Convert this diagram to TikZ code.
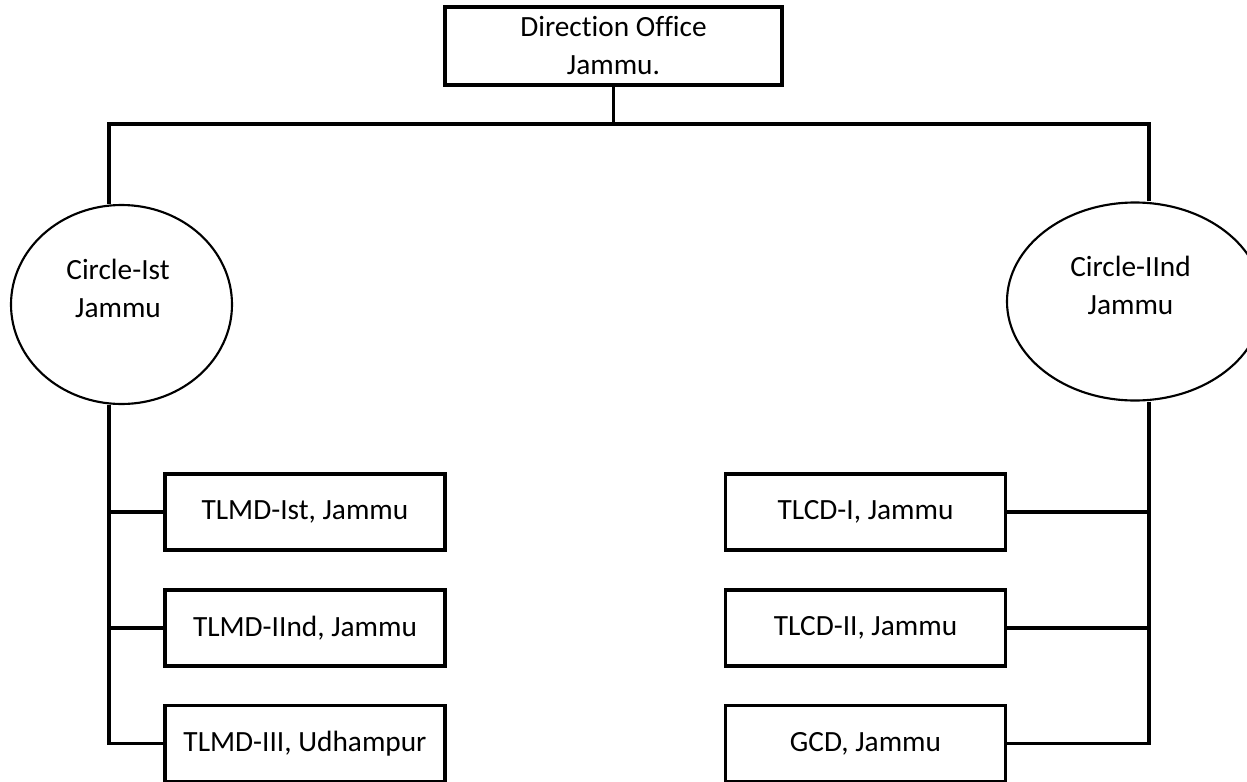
\documentclass[tikz,border=0pt]{standalone}
\usepackage{fontspec}
\setmainfont{Carlito}[Ligatures=CommonOff]
\usetikzlibrary{shapes.geometric}
\begin{document}
\begin{tikzpicture}[x=0.75pt,y=-0.75pt,
  txt/.style={font=\fontsize{22}{28.5}\selectfont},
  topbox/.style={draw, rectangle, line width=2.4pt, minimum width=252.75pt,
    minimum height=58.5pt, inner sep=0pt, align=center, txt},
  unit/.style={draw, rectangle, line width=2.4pt, minimum width=210pt,
    minimum height=57pt, inner sep=0pt, txt},
  circ/.style={draw, ellipse, line width=1.6pt, inner sep=0pt},
  lbl/.style={align=center, inner sep=0pt, txt},
  wire/.style={line width=2.3pt, line join=miter}]
  \useasboundingbox (0,0) rectangle (1247,782);
  \fill[white] (0,0) rectangle (1247,782);
  \clip (0,0) rectangle (1247,782);

  % head office
  \node[topbox] (dir) at (613.5,46) {Direction Office\\Jammu.};
  \coordinate (hub) at (613.5,124);
  \coordinate (barL) at (109,124);
  \coordinate (barR) at (1149,124);

  % circles
  \node[circ, minimum width=165.75pt, minimum height=149.25pt] (c1) at (121.5,304.5) {};
  \node[lbl] (c1t) at (118,288) {Circle-Ist\\Jammu};
  \node[circ, minimum width=192pt, minimum height=148.5pt] (c2) at (1135,301.5) {};
  \node[lbl] (c2t) at (1130.5,285) {Circle-IInd\\Jammu};

  % divisions
  \node[unit] (l1) at (305,512) {TLMD-Ist, Jammu};
  \node[unit] (l2) at (305,628) {TLMD-IInd, Jammu};
  \node[unit] (l3) at (305,743.5) {TLMD-III, Udhampur};
  \node[unit] (r1) at (865.5,512) {TLCD-I, Jammu};
  \node[unit] (r2) at (865.5,628) {TLCD-II, Jammu};
  \node[unit] (r3) at (865.5,743.5) {GCD, Jammu};

  % connectors
  \draw[wire] (dir.south) -- (hub);
  \draw[wire] (barL |- c1.north) -- (barL) -- (barR) -- (barR |- c2.north);

  \draw[wire] (c1.south -| barL) -- (barL |- l3.west) -- (l3.west);
  \draw[wire] (barL |- l1.west) -- (l1.west);
  \draw[wire] (barL |- l2.west) -- (l2.west);

  \draw[wire] (c2.south -| barR) -- (barR |- r3.east) -- (r3.east);
  \draw[wire] (barR |- r1.east) -- (r1.east);
  \draw[wire] (barR |- r2.east) -- (r2.east);
\end{tikzpicture}
\end{document}
